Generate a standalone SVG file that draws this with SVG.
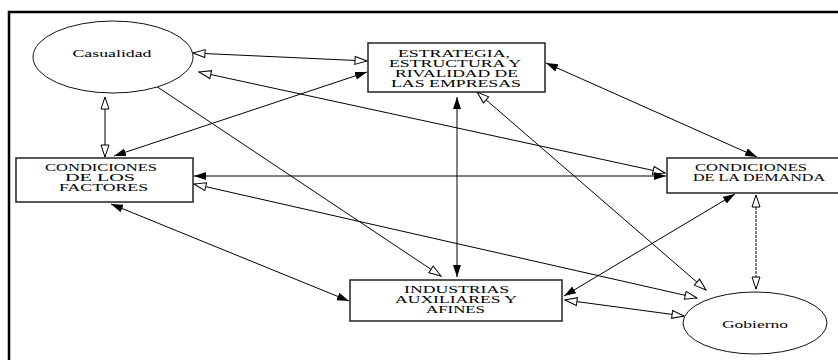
<svg xmlns="http://www.w3.org/2000/svg" width="838" height="360" viewBox="0 0 838 360">
<style>
.t{font-family:"Liberation Serif","DejaVu Serif","Times New Roman",serif;font-size:10px;fill:#000;text-anchor:middle}
.box{fill:#fff;stroke:#222;stroke-width:1.5}
.ell{fill:#fff;stroke:#111;stroke-width:1}
.c{fill:none;stroke:#000;stroke-width:1}
.ff{marker-start:url(#f);marker-end:url(#f)}
.hh{marker-start:url(#h);marker-end:url(#h)}
</style>
<defs>
<marker id="f" markerUnits="userSpaceOnUse" markerWidth="14" markerHeight="10" refX="12" refY="4" orient="auto-start-reverse" viewBox="0 0 14 10"><path d="M0,0 L12,4 L0,8 Z" fill="#000"/></marker>
<marker id="h" markerUnits="userSpaceOnUse" markerWidth="16" markerHeight="12" refX="13" refY="5" orient="auto-start-reverse" viewBox="0 0 16 12"><path d="M1,1 L13,5 L1,9 Z" fill="#fff" stroke="#000" stroke-width="1"/></marker>
</defs>
<rect width="838" height="360" fill="#fff"/>
<path d="M9,360 V12 H838" fill="none" stroke="#000" stroke-width="2.5"/>
<g id="connectors">
<line class="c hh" x1="193" y1="53" x2="367" y2="61"/>
<line class="c hh" x1="199" y1="72" x2="665" y2="173"/>
<line class="c hh" x1="105" y1="97" x2="105" y2="157" stroke-width="2.5"/>
<line class="c ff" x1="114" y1="156" x2="367" y2="72"/>
<line class="c hh" x1="141" y1="76" x2="441" y2="276" stroke-width="1.6"/>
<line class="c ff" x1="457" y1="97" x2="457" y2="277" stroke-width="2"/>
<line class="c hh" x1="477" y1="92" x2="706" y2="290" stroke-width="1.6"/>
<line class="c ff" x1="546" y1="63" x2="757" y2="157"/>
<line class="c ff" x1="194" y1="176" x2="666" y2="176"/>
<line class="c hh" x1="194" y1="184" x2="697" y2="298" stroke-width="1.2"/>
<line class="c ff" x1="111" y1="204" x2="349" y2="301"/>
<line class="c ff" x1="735" y1="194" x2="564" y2="296"/>
<line class="c hh" x1="756" y1="195" x2="756" y2="289" stroke-width="2.5" stroke-dasharray="3,1"/>
<line class="c hh" x1="565" y1="300" x2="684" y2="316" stroke-width="1.2"/>
</g>
<g id="casualidad">
<ellipse class="ell" cx="113" cy="57" rx="80" ry="36"/>
<text class="t" x="112" y="56.5" textLength="79" lengthAdjust="spacingAndGlyphs">Casualidad</text>
</g>
<g id="estrategia">
<rect class="box" x="368" y="43" width="177" height="49"/>
<text class="t" x="454" y="56.5" textLength="112" lengthAdjust="spacingAndGlyphs">ESTRATEGIA,</text>
<text class="t" x="455" y="66.8" textLength="132" lengthAdjust="spacingAndGlyphs">ESTRUCTURA Y</text>
<text class="t" x="456.5" y="77.1" textLength="123" lengthAdjust="spacingAndGlyphs">RIVALIDAD DE</text>
<text class="t" x="456" y="87.4" textLength="130" lengthAdjust="spacingAndGlyphs">LAS EMPRESAS</text>
</g>
<g id="factores">
<rect class="box" x="16" y="158" width="177" height="44"/>
<text class="t" x="101" y="170.5" textLength="112" lengthAdjust="spacingAndGlyphs">CONDICIONES</text>
<text class="t" x="100" y="180.5" textLength="70" lengthAdjust="spacingAndGlyphs">DE LOS</text>
<text class="t" x="103.5" y="190.5" textLength="89" lengthAdjust="spacingAndGlyphs">FACTORES</text>
</g>
<g id="demanda">
<rect class="box" x="667" y="158" width="173" height="35"/>
<text class="t" x="751" y="170.5" textLength="112" lengthAdjust="spacingAndGlyphs">CONDICIONES</text>
<text class="t" x="759" y="181" textLength="132" lengthAdjust="spacingAndGlyphs">DE LA DEMANDA</text>
</g>
<g id="industrias">
<rect class="box" x="350" y="280" width="212" height="41"/>
<text class="t" x="456.5" y="293" textLength="105" lengthAdjust="spacingAndGlyphs">INDUSTRIAS</text>
<text class="t" x="456" y="303" textLength="122" lengthAdjust="spacingAndGlyphs">AUXILIARES Y</text>
<text class="t" x="455.5" y="313" textLength="59" lengthAdjust="spacingAndGlyphs">AFINES</text>
</g>
<g id="gobierno">
<ellipse class="ell" cx="755" cy="323" rx="72" ry="31"/>
<text class="t" x="755" y="327.5" textLength="66" lengthAdjust="spacingAndGlyphs">Gobierno</text>
</g>
</svg>
